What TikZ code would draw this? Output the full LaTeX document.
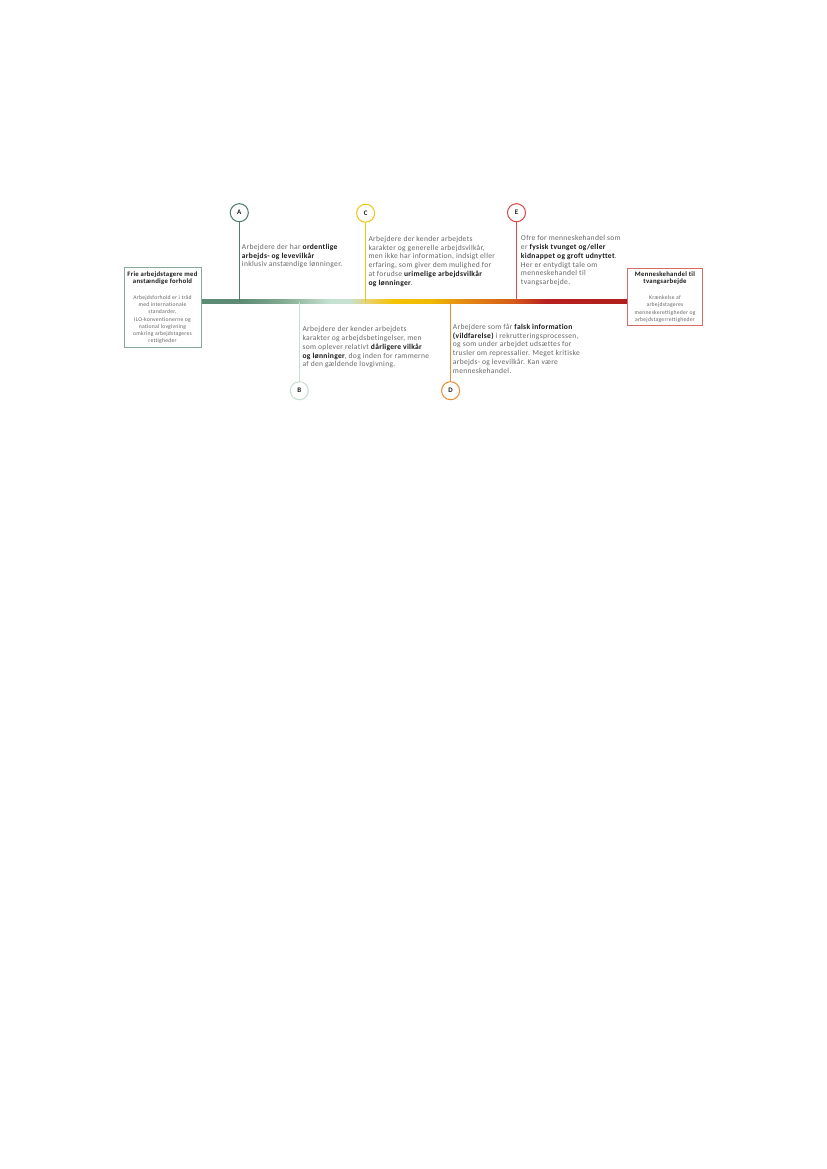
\documentclass[tikz,border=0pt]{standalone}
\usepackage{fontspec}
\setmainfont{Carlito}[LetterSpace=4.0, Ligatures={NoCommon}]
\definecolor{cA}{HTML}{4F7F69}
\definecolor{cB}{HTML}{C6E0D0}
\definecolor{cC}{HTML}{F0C419}
\definecolor{cD}{HTML}{E88E36}
\definecolor{cE}{HTML}{D94A4A}
\definecolor{boxL}{HTML}{8AA898}
\definecolor{boxR}{HTML}{D86A6A}
\definecolor{txtgray}{HTML}{666666}
\definecolor{txtbold}{HTML}{1A1A1A}
\definecolor{g1}{HTML}{5C8A72}
\definecolor{g2}{HTML}{80A98F}
\definecolor{g3}{HTML}{C6E1D0}
\definecolor{y0}{HTML}{ECD060}
\definecolor{y1}{HTML}{F3C300}
\definecolor{y2}{HTML}{F0B800}
\definecolor{o1}{HTML}{E48C12}
\definecolor{o2}{HTML}{D65D18}
\definecolor{r1}{HTML}{B82020}
\definecolor{r2}{HTML}{B01E1E}
\pgfdeclarehorizontalshading{barshade}{100bp}{color(0bp)=(g1); color(25bp)=(g1); color(29.7bp)=(g1); color(34.4bp)=(g2); color(40.2bp)=(g3); color(42.6bp)=(g3); color(44.9bp)=(y0); color(47.8bp)=(y1); color(52bp)=(y2); color(55.7bp)=(o1); color(61.5bp)=(o2); color(65.4bp)=(r1); color(75bp)=(r2); color(100bp)=(r2)}
\newlength\calibw
\newcommand\strongtxt[1]{\textcolor{txtbold}{\bfseries #1}}
\newcommand\boxtitle[1]{\textcolor{txtbold}{\bfseries\fontsize{\titlesize}{5.25}\selectfont #1}}
\begin{document}
% calibrate font sizes to the widths measured on the reference
\settowidth\calibw{\fontsize{10}{12}\selectfont men ikke har information, indsigt eller}%
\pgfmathsetmacro\bodysize{10*91.0/\calibw}%
\settowidth\calibw{\fontsize{10}{12}\selectfont menneskerettigheder og}%
\pgfmathsetmacro\boxsize{10*43.9/\calibw}%
\settowidth\calibw{\bfseries\fontsize{10}{12}\selectfont Frie arbejdstagere med}%
\pgfmathsetmacro\titlesize{10*50.4/\calibw}%
\pgfmathsetmacro\topshift{0.47*\bodysize}%
\begin{tikzpicture}[x=0.71981pt,y=-0.71981pt,
  letter/.style={circle, draw, fill=white, line width=0.75pt, minimum size=13pt, inner sep=0pt, text=txtbold, font=\bfseries\fontsize{5}{6}\selectfont},
  stem/.style={line width=0.55pt},
  textblock/.style={anchor=north west, inner sep=0pt, align=left, text=txtgray, yshift=\topshift pt, font=\fontsize{\bodysize}{6.3}\selectfont},
  endbox/.style={draw, fill=white, line width=0.6pt, inner sep=0pt, align=center, text=txtgray, font=\fontsize{\boxsize}{5.18}\selectfont}]
\useasboundingbox (0,0) rectangle (827,1169);
\fill[white] (0,0) rectangle (827,1169);
% bar
\path[shading=barshade] (200,299.4) rectangle (627.5,303.6);
\coordinate (barA) at (239.3,301.5);
\coordinate (barB) at (299.3,301.5);
\coordinate (barC) at (365.6,301.5);
\coordinate (barD) at (450.6,301.5);
\coordinate (barE) at (516.5,301.5);
% end boxes
\node[endbox, draw=boxL, minimum width=55.4pt, minimum height=57.6pt] (left) at (162.5,307.7)
  {\boxtitle{Frie arbejdstagere med}\\ \boxtitle{anstændige forhold}\\[6.3pt]
   Arbejdsforhold er i tråd\\ med internationale\\ standarder,\\ ILO-konventionerne og\\ national lovgivning\\ omkring arbejdstageres\\ rettigheder};
\node[endbox, draw=boxR, minimum width=53.7pt, minimum height=41.3pt] (right) at (665,297)
  {\boxtitle{Menneskehandel til}\\ \boxtitle{tvangsarbejde}\\[6.3pt]
   Krænkelse af\\ arbejdstageres\\ menneskerettigheder og\\ arbejdstagerrettigheder};
% circles
\node[letter, draw=cA] (A) at (239.3,212.7) {A};
\node[letter, draw=cB] (B) at (299.3,390.7) {B};
\node[letter, draw=cC] (C) at (365.6,213.2) {C};
\node[letter, draw=cD] (D) at (450.6,390.7) {D};
\node[letter, draw=cE] (E) at (516.5,212.7) {E};
% stems
\draw[stem, cA] (A) -- (barA);
\draw[stem, cB] (barB) -- (B);
\draw[stem, cC] (C) -- (barC);
\draw[stem, cD] (barD) -- (D);
\draw[stem, cE] (E) -- (barE);
% texts
\node[textblock] (tA) at (241.7,247.3) {Arbejdere der har \strongtxt{ordentlige}\\ \strongtxt{arbejds- og levevilkår}\\ inklusiv anstændige lønninger.};
\node[textblock] (tB) at (302.3,330) {Arbejdere der kender arbejdets\\ karakter og arbejdsbetingelser, men\\ som oplever relativt \strongtxt{dårligere vilkår}\\ \strongtxt{og lønninger}, dog inden for rammerne\\ af den gældende lovgivning.};
\node[textblock] (tC) at (368.3,239.3) {Arbejdere der kender arbejdets\\ karakter og generelle arbejdsvilkår,\\ men ikke har information, indsigt eller\\ erfaring, som giver dem mulighed for\\ at forudse \strongtxt{urimelige arbejdsvilkår}\\ \strongtxt{og lønninger}.};
\node[textblock] (tD) at (452.7,327.3) {Arbejdere som får \strongtxt{falsk information}\\ \strongtxt{(vildfarelse)} i rekrutteringsprocessen,\\ og som under arbejdet udsættes for\\ trusler om repressalier. Meget kritiske\\ arbejds- og levevilkår. Kan være\\ menneskehandel.};
\node[textblock] (tE) at (520.7,239) {Ofre for menneskehandel som\\ er \strongtxt{fysisk tvunget og/eller}\\ \strongtxt{kidnappet og groft udnyttet}.\\ Her er entydigt tale om\\ menneskehandel til\\ tvangsarbejde.};
\end{tikzpicture}
\end{document}
